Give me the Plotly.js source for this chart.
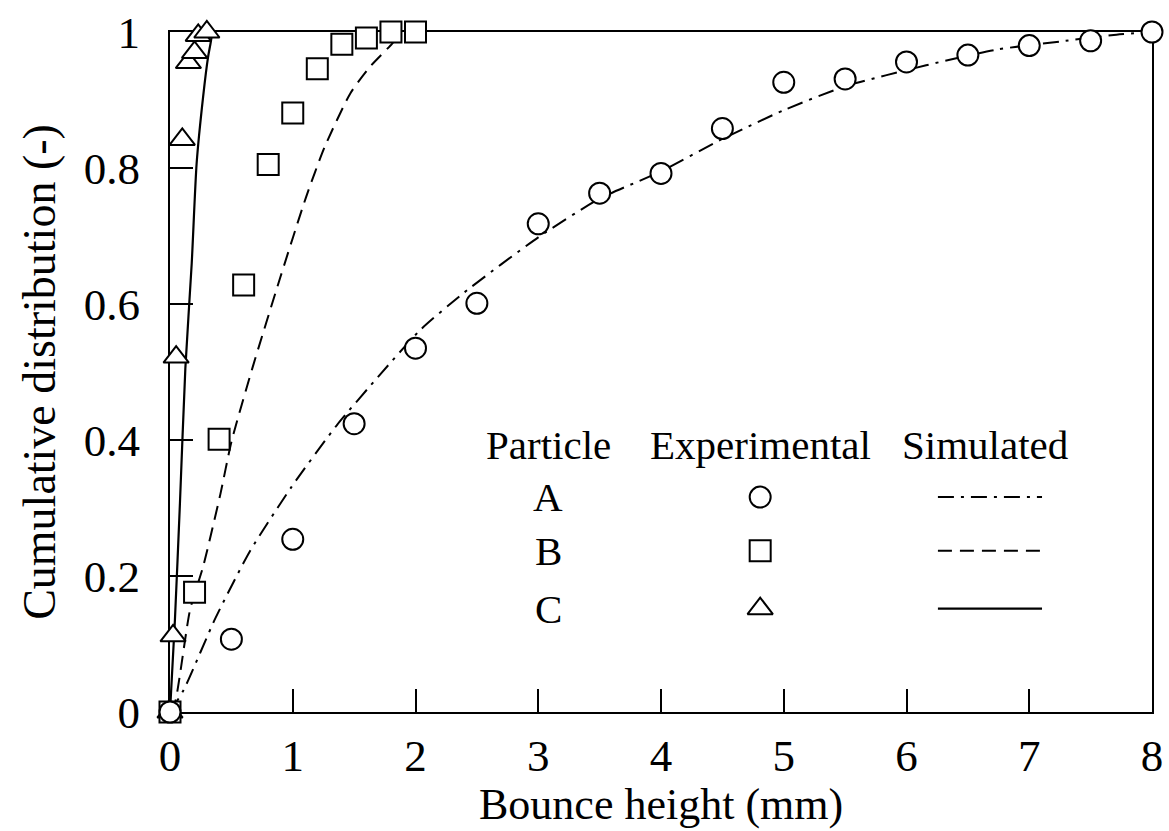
<!DOCTYPE html>
<html>
<head>
<meta charset="utf-8">
<script src="https://cdn.plot.ly/plotly-3.0.1.min.js"></script>
<style>html,body{margin:0;padding:0;background:#fff;}#chart{width:1169px;height:831px;}</style>
</head>
<body>
<div id="chart"></div>
<script>
const expA_x = [0, 0.5, 1, 1.5, 2, 2.5, 3, 3.5, 4, 4.5, 5, 5.5, 6, 6.5, 7, 7.5, 8];
const expA_y = [0, 0.107, 0.254, 0.424, 0.535, 0.601, 0.718, 0.763, 0.792, 0.858, 0.926, 0.931, 0.956, 0.966, 0.980, 0.987, 1.0];
const expB_x = [0, 0.2, 0.4, 0.6, 0.8, 1.0, 1.2, 1.4, 1.6, 1.8, 2.0];
const expB_y = [0, 0.176, 0.401, 0.628, 0.805, 0.881, 0.946, 0.982, 0.991, 1.0, 1.0];
const expC_x = [0, 0.025, 0.05, 0.1, 0.15, 0.2, 0.23, 0.3];
const expC_y = [0, 0.112, 0.522, 0.842, 0.955, 0.97, 0.995, 1.0];

// Simulated curves
const simA_x = [0, 0.11, 0.37, 0.65, 0.99, 1.36, 1.72, 2.04, 2.39, 3.0, 3.5, 4.0, 4.48, 5.0, 5.5, 6.16, 6.73, 7.25, 7.71, 8.0];
const simA_y = [0, 0.032, 0.138, 0.236, 0.331, 0.422, 0.498, 0.562, 0.616, 0.698, 0.755, 0.795, 0.841, 0.885, 0.92, 0.951, 0.974, 0.986, 0.996, 1.0];
const simB_x = [0, 0.04, 0.163, 0.27, 0.41, 0.5, 0.67, 0.9, 1.11, 1.26, 1.47, 1.63, 1.81, 1.88];
const simB_y = [0, 0.013, 0.15, 0.214, 0.32, 0.397, 0.505, 0.64, 0.758, 0.831, 0.91, 0.949, 0.983, 1.0];
const simC_x = [0, 0.04, 0.081, 0.125, 0.177, 0.217, 0.27, 0.31, 0.33, 0.345];
const simC_y = [0, 0.135, 0.307, 0.505, 0.66, 0.807, 0.905, 0.963, 0.983, 1.0];

// Tick labels and legend table
const yTickVals = [0, 0.2, 0.4, 0.6, 0.8, 1];
const yTickText = ['0', '0.2', '0.4', '0.6', '0.8', '1'];
const legendHeader = ['Particle', 'Experimental', 'Simulated'];
const particles = ['A', 'B', 'C'];

const FONT = 'Liberation Serif, Times New Roman, serif';
const dashA = '16px,7px,3px,7px';
const dashB = '14px,8px';

const mk = (sym, size) => ({symbol: sym, size: size, color: 'white', line: {color: 'black', width: 2}});

// legend glyph placement (overlay axis 0..1 in plot area)
const legX = [0.601];
const legLineX = [0.782, 0.888];
const legRowY = [0.316, 0.237, 0.152];

const traces = [
  {x: simA_x, y: simA_y, mode: 'lines', line: {color: 'black', width: 2, dash: dashA, shape: 'spline', smoothing: 0.6}, hoverinfo: 'skip'},
  {x: simB_x, y: simB_y, mode: 'lines', line: {color: 'black', width: 2, dash: dashB, shape: 'spline', smoothing: 0.6}, hoverinfo: 'skip'},
  {x: simC_x, y: simC_y, mode: 'lines', line: {color: 'black', width: 2.2, shape: 'spline', smoothing: 0.6}, hoverinfo: 'skip'},
  {x: expC_x, y: expC_y, mode: 'markers', marker: mk('triangle-up', 22), cliponaxis: false},
  {x: expB_x, y: expB_y, mode: 'markers', marker: mk('square', 21), cliponaxis: false},
  {x: expA_x, y: expA_y, mode: 'markers', marker: mk('circle', 21), cliponaxis: false},
  // legend glyphs
  {x: legX, y: [legRowY[0]], xaxis: 'x2', yaxis: 'y2', mode: 'markers', marker: mk('circle', 21)},
  {x: legX, y: [legRowY[1]], xaxis: 'x2', yaxis: 'y2', mode: 'markers', marker: mk('square', 21)},
  {x: legX, y: [legRowY[2]], xaxis: 'x2', yaxis: 'y2', mode: 'markers', marker: mk('triangle-up', 22)},
  {x: legLineX, y: [legRowY[0], legRowY[0]], xaxis: 'x2', yaxis: 'y2', mode: 'lines', line: {color: 'black', width: 2, dash: dashA}},
  {x: legLineX, y: [legRowY[1], legRowY[1]], xaxis: 'x2', yaxis: 'y2', mode: 'lines', line: {color: 'black', width: 2, dash: dashB}},
  {x: legLineX, y: [legRowY[2], legRowY[2]], xaxis: 'x2', yaxis: 'y2', mode: 'lines', line: {color: 'black', width: 2.2}}
];

const annotations = [];
const headerX = [0.385, 0.601, 0.830];
legendHeader.forEach((t, i) => annotations.push({xref: 'paper', yref: 'paper', x: headerX[i], y: 0.393, text: t, showarrow: false, xanchor: 'center', yanchor: 'middle', font: {family: FONT, size: 41, color: 'black'}}));
particles.forEach((t, i) => annotations.push({xref: 'paper', yref: 'paper', x: 0.385, y: legRowY[i], text: t, showarrow: false, xanchor: 'center', yanchor: 'middle', font: {family: FONT, size: 41, color: 'black'}}));
// x-axis title
annotations.push({xref: 'paper', yref: 'paper', x: 0.5, y: -0.1355, text: 'Bounce height (mm)', showarrow: false, xanchor: 'center', yanchor: 'middle', font: {family: FONT, size: 44, color: 'black'}});

const axisCommon = {
  showgrid: false, zeroline: false, showline: true, linecolor: 'black', linewidth: 2, mirror: true,
  ticks: 'inside', ticklen: 23, tickwidth: 2, tickcolor: 'black',
  tickfont: {family: FONT, size: 45, color: 'black'}, layer: 'below traces'
};

const layout = {
  width: 1169, height: 831,
  margin: {l: 170, r: 17, t: 32, b: 119},
  paper_bgcolor: 'white', plot_bgcolor: 'white',
  showlegend: false,
  font: {family: FONT, color: 'black'},
  xaxis: Object.assign({}, axisCommon, {range: [0, 8], dtick: 1, tick0: 0, ticklabelstandoff: 3}),
  yaxis: Object.assign({}, axisCommon, {range: [0, 1], ticklabelstandoff: 19,
    tickvals: yTickVals, ticktext: yTickText,
    title: {text: 'Cumulative distribution (-)', font: {family: FONT, size: 46, color: 'black'}, standoff: 14}}),
  xaxis2: {overlaying: 'x', range: [0, 1], visible: false, fixedrange: true},
  yaxis2: {overlaying: 'y', range: [0, 1], visible: false, fixedrange: true},
  annotations: annotations
};

Plotly.newPlot('chart', traces, layout, {staticPlot: true});
</script>
</body>
</html>
